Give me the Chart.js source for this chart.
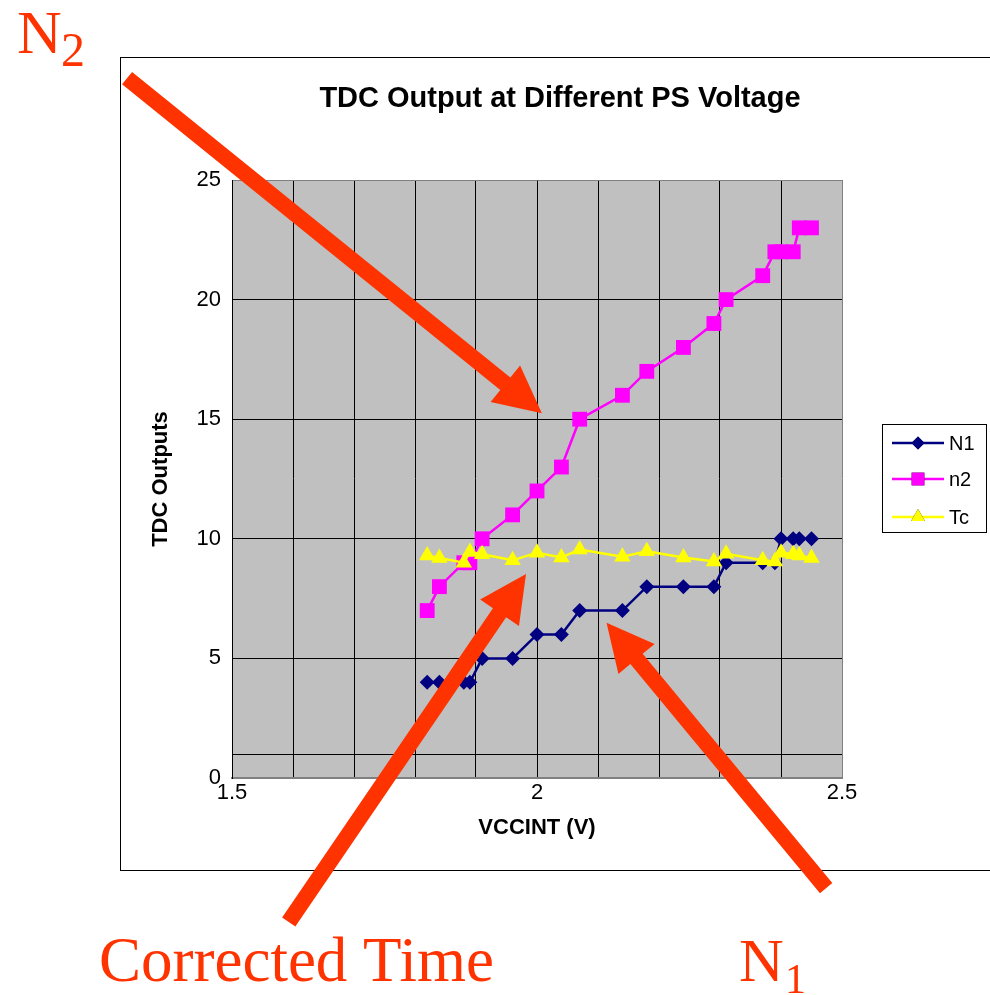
<!DOCTYPE html>
<html>
<head>
<meta charset="utf-8">
<title>TDC Output at Different PS Voltage</title>
<script src="https://cdn.jsdelivr.net/npm/chart.js@4.4.1/dist/chart.umd.min.js"></script>
<style>
  html, body { margin: 0; padding: 0; background: #fff; }
  #wrap { width: 990px; height: 995px; }
</style>
</head>
<body>
<div id="wrap"><canvas id="tdc" width="990" height="995"></canvas></div>
<script>
// VCCINT sweep (V) and the TDC readings at each supply point
const vccint = [1.82, 1.84, 1.88, 1.89, 1.91, 1.96, 2.00, 2.04, 2.07, 2.14, 2.18, 2.24, 2.29, 2.31, 2.37, 2.39, 2.40, 2.42, 2.43, 2.45];
const n1 = [4, 4, 4, 4, 5, 5, 6, 6, 7, 7, 8, 8, 8, 9, 9, 9, 10, 10, 10, 10];
const n2 = [7, 8, 9, 9, 10, 11, 12, 13, 15, 16, 17, 18, 19, 20, 21, 22, 22, 22, 23, 23];
const tc = [9.3, 9.2, 9.0, 9.45, 9.35, 9.1, 9.42, 9.22, 9.55, 9.25, 9.48, 9.22, 9.05, 9.37, 9.1, 9.05, 9.42, 9.35, 9.3, 9.2];

const seriesNames = ['N1', 'n2', 'Tc'];
const yTicks = [0, 1, 5, 10, 15, 20, 25];
const yTickLabels = ['0', '', '5', '10', '15', '20', '25'];
const xTickLabels = { '1.5': '1.5', '2': '2', '2.5': '2.5' };

// callouts: where each arrow starts / points (axis units)
const calloutArrows = [
  { from: [1.328, 29.26], to: [2.008, 15.25] },   // N2
  { from: [1.593, -6.02], to: [1.982, 8.53] },    // corrected time
  { from: [2.474, -4.60], to: [2.114, 6.49] }     // N1
];

const ARROW_RED = '#FF3300';

const toPoints = (ys) => vccint.map((v, i) => ({ x: v, y: ys[i] }));

Chart.defaults.font.family = '"Liberation Sans", Arial, Helvetica, sans-serif';
Chart.defaults.color = '#000';

// grey plot background like the old spreadsheet charts
const plotBackground = {
  id: 'plotBackground',
  beforeDraw(chart) {
    const { ctx, chartArea: a } = chart;
    ctx.save();
    ctx.fillStyle = '#C0C0C0';
    ctx.fillRect(a.left, a.top, a.right - a.left, a.bottom - a.top);
    ctx.restore();
  }
};

// outer frame, line+marker legend, arrows and the serif callout labels
const overlay = {
  id: 'overlay',
  afterDraw(chart) {
    const { ctx } = chart;
    const xs = chart.scales.x, ys = chart.scales.y;

    ctx.save();
    ctx.strokeStyle = '#000';
    ctx.lineWidth = 1;
    ctx.strokeRect(120.5, 57.5, 900, 813);

    // legend
    ctx.strokeStyle = '#000';
    ctx.strokeRect(882.5, 424.5, 104, 108);
    const rows = [443, 479, 517];
    chart.data.datasets.forEach((ds, i) => {
      const y = rows[i];
      ctx.strokeStyle = ds.borderColor;
      ctx.lineWidth = ds.borderWidth;
      ctx.beginPath();
      ctx.moveTo(892, y);
      ctx.lineTo(944, y);
      ctx.stroke();
      Chart.helpers.drawPoint(ctx, {
        pointStyle: ds.pointStyle,
        radius: ds.legendRadius,
        borderWidth: 0,
        rotation: 0
      }, 918, y);
      ctx.fillStyle = ds.backgroundColor;
      ctx.fill();
      ctx.fillStyle = '#000';
      ctx.font = '20px "Liberation Sans", Arial, sans-serif';
      ctx.textAlign = 'left';
      ctx.textBaseline = 'middle';
      ctx.fillText(ds.label, 949, y + 1);
    });

    // arrows
    ctx.fillStyle = ARROW_RED;
    const headLen = 47, headHalf = 23.5, shaftHalf = 8;
    calloutArrows.forEach(a => {
      const x0 = xs.getPixelForValue(a.from[0]), y0 = ys.getPixelForValue(a.from[1]);
      const x1 = xs.getPixelForValue(a.to[0]), y1 = ys.getPixelForValue(a.to[1]);
      const len = Math.hypot(x1 - x0, y1 - y0);
      const ux = (x1 - x0) / len, uy = (y1 - y0) / len;
      const px = -uy, py = ux;
      const bx = x1 - ux * headLen, by = y1 - uy * headLen;
      ctx.beginPath();
      ctx.moveTo(x0 + px * shaftHalf, y0 + py * shaftHalf);
      ctx.lineTo(bx + px * shaftHalf, by + py * shaftHalf);
      ctx.lineTo(bx + px * headHalf, by + py * headHalf);
      ctx.lineTo(x1, y1);
      ctx.lineTo(bx - px * headHalf, by - py * headHalf);
      ctx.lineTo(bx - px * shaftHalf, by - py * shaftHalf);
      ctx.lineTo(x0 - px * shaftHalf, y0 - py * shaftHalf);
      ctx.closePath();
      ctx.fill();
    });

    // callout labels
    ctx.textAlign = 'left';
    ctx.textBaseline = 'alphabetic';
    ctx.font = '62px "Liberation Serif", "Times New Roman", serif';
    ctx.fillText('N', 17, 53);
    ctx.fillText('N', 739, 981);
    ctx.font = '63px "Liberation Serif", "Times New Roman", serif';
    ctx.fillText('Corrected Time', 99, 981);
    ctx.font = '48px "Liberation Serif", "Times New Roman", serif';
    ctx.fillText('2', 61, 66);
    ctx.font = '42px "Liberation Serif", "Times New Roman", serif';
    ctx.fillText('1', 785, 993);
    ctx.restore();
  }
};

new Chart(document.getElementById('tdc'), {
  type: 'line',
  data: {
    datasets: [
      {
        label: seriesNames[0],
        data: toPoints(n1),
        borderColor: '#000080',
        backgroundColor: '#000080',
        borderWidth: 2.5,
        pointStyle: 'rectRot',
        pointRadius: 7.5,
        legendRadius: 6.5,
        pointBorderWidth: 0,
        order: 3
      },
      {
        label: seriesNames[1],
        data: toPoints(n2),
        borderColor: '#FF00FF',
        backgroundColor: '#FF00FF',
        borderWidth: 2.5,
        pointStyle: 'rect',
        pointRadius: 10.5,
        legendRadius: 9,
        pointBorderWidth: 0,
        order: 2
      },
      {
        label: seriesNames[2],
        data: toPoints(tc),
        borderColor: '#FFFF00',
        backgroundColor: '#FFFF00',
        borderWidth: 2.5,
        pointStyle: 'triangle',
        pointRadius: 9.5,
        legendRadius: 8,
        pointBorderWidth: 0,
        order: 1
      }
    ]
  },
  options: {
    responsive: false,
    devicePixelRatio: 1,
    animation: false,
    layout: { padding: { left: 130, top: 57, right: 0, bottom: 125 } },
    elements: { line: { tension: 0 } },
    plugins: {
      legend: { display: false },
      tooltip: { enabled: false },
      title: {
        display: true,
        text: 'TDC Output at Different PS Voltage',
        font: { size: 29, weight: 'bold' },
        color: '#000',
        padding: { top: 25, bottom: 63.2 }
      }
    },
    scales: {
      x: {
        type: 'linear',
        min: 1.5,
        max: 2.5,
        afterFit: (scale) => { scale.height = 92; },
        ticks: {
          stepSize: 0.1,
          autoSkip: false,
          maxRotation: 0,
          padding: 2,
          font: { size: 22 },
          callback: (value) => xTickLabels[String(Math.round(value * 10) / 10)] || ''
        },
        grid: {
          drawTicks: false,
          color: (c) => (c.tick && Math.abs(c.tick.value - 2.5) < 1e-6 ? '#808080' : '#000'),
          lineWidth: 1
        },
        border: { color: '#808080', width: 2 },
        title: {
          display: true,
          text: 'VCCINT (V)',
          font: { size: 22, weight: 'bold' },
          padding: { top: 0, bottom: 29 }
        }
      },
      y: {
        min: 0,
        max: 25,
        afterFit: (scale) => { scale.width = 102; },
        afterBuildTicks: (scale) => { scale.ticks = yTicks.map(v => ({ value: v })); },
        ticks: {
          padding: 11,
          font: { size: 22 },
          callback: (value) => yTickLabels[yTicks.indexOf(value)]
        },
        grid: {
          drawTicks: false,
          color: (c) => (c.tick && c.tick.value === 25 ? '#808080' : '#000'),
          lineWidth: 1
        },
        border: { color: '#000', width: 1 },
        title: {
          display: true,
          text: 'TDC Outputs',
          font: { size: 22, weight: 'bold' },
          padding: { top: 18, bottom: 0 }
        }
      },
      // empty right-hand axis that reserves the legend column
      legendSpace: {
        position: 'right',
        display: true,
        afterFit: (scale) => { scale.width = 148; },
        ticks: { display: false },
        grid: { display: false, drawOnChartArea: false },
        border: { display: false }
      }
    }
  },
  plugins: [plotBackground, overlay]
});
</script>
</body>
</html>
